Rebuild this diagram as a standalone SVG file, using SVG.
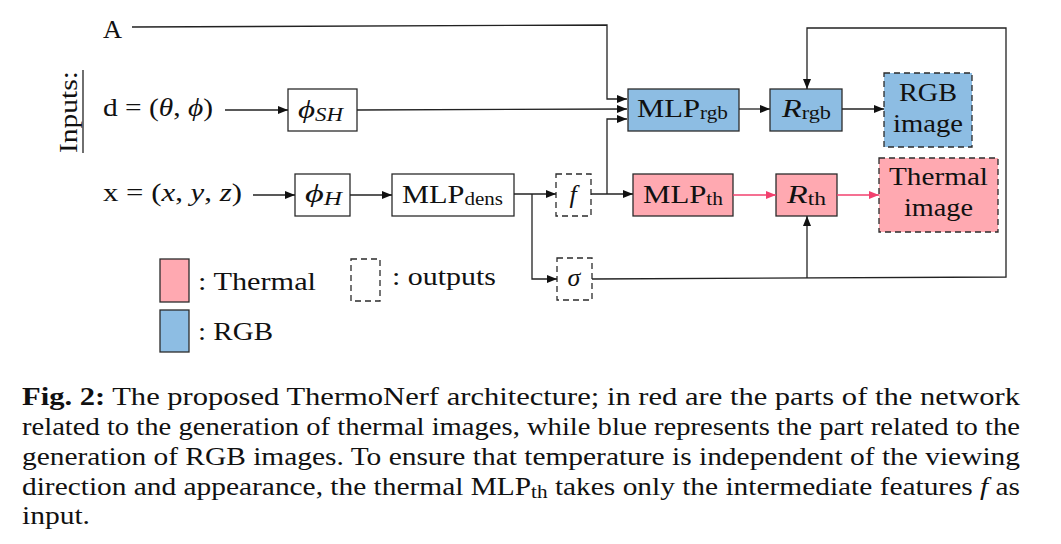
<svg xmlns="http://www.w3.org/2000/svg" width="1061" height="544" viewBox="0 0 1061 544">
<style>
text{font-family:"Liberation Serif","Times New Roman",serif;fill:#111}
.t{font-size:26px}
.s{font-size:18px}
.i{font-style:italic}
.box{stroke:#2b2b2b;stroke-width:1.3;fill:#fff}
.th{fill:#FFA9B1}
.rgb{fill:#8DBDE3}
.dash{stroke-dasharray:6 4}
.ln{fill:none;stroke:#222;stroke-width:1.3}
.pk{fill:none;stroke:#F2406E;stroke-width:1.3}
.cap{font-size:25px}
</style>
<defs>
<marker id="ah" markerUnits="userSpaceOnUse" markerWidth="12" markerHeight="10" refX="10" refY="5" orient="auto"><path d="M0,1 L10,5 L0,9 z" fill="#111"/></marker>
<marker id="ahp" markerUnits="userSpaceOnUse" markerWidth="12" markerHeight="10" refX="10" refY="5" orient="auto"><path d="M0,1 L10,5 L0,9 z" fill="#F2406E"/></marker>
</defs>
<rect width="1061" height="544" fill="#fff"/>

<g id="inputs">
<text class="t" transform="translate(77,153) rotate(-90)" textLength="82" lengthAdjust="spacingAndGlyphs">Inputs:</text>
<line x1="83" y1="70" x2="83" y2="153" stroke="#222" stroke-width="1.3"/>
<text class="t" x="103" y="38" textLength="19" lengthAdjust="spacingAndGlyphs">A</text>
<text class="t" x="103" y="116" textLength="110" lengthAdjust="spacingAndGlyphs">d = (<tspan class="i">θ</tspan>, <tspan class="i">ϕ</tspan>)</text>
<text class="t" x="103" y="201" textLength="139" lengthAdjust="spacingAndGlyphs">x = (<tspan class="i">x</tspan>, <tspan class="i">y</tspan>, <tspan class="i">z</tspan>)</text>
</g>

<g id="phiSH"><rect class="box" x="288" y="89" width="69" height="42"/><text class="t" x="298" y="118" textLength="45" lengthAdjust="spacingAndGlyphs"><tspan class="i">ϕ</tspan><tspan class="s i" dy="3">SH</tspan></text></g>
<g id="phiH"><rect class="box" x="295" y="174" width="55" height="42"/><text class="t" x="305" y="202" textLength="37" lengthAdjust="spacingAndGlyphs"><tspan class="i">ϕ</tspan><tspan class="s i" dy="3">H</tspan></text></g>
<g id="mlpdens"><rect class="box" x="392" y="174" width="122" height="42"/><text class="t" x="402" y="203" textLength="101" lengthAdjust="spacingAndGlyphs">MLP<tspan class="s" dy="2">dens</tspan></text></g>
<g id="f"><rect class="box dash" x="556" y="174" width="35" height="42"/><text class="t i" x="573" y="203" text-anchor="middle">f</text></g>
<g id="sigma"><rect class="box dash" x="557" y="258" width="35" height="42"/><text class="t i" x="574" y="286" text-anchor="middle">σ</text></g>
<g id="mlprgb"><rect class="box rgb" x="628" y="89" width="111" height="42"/><text class="t" x="637" y="117" textLength="91" lengthAdjust="spacingAndGlyphs">MLP<tspan class="s" dy="2">rgb</tspan></text></g>
<g id="rrgb"><rect class="box rgb" x="770" y="89" width="72" height="42"/><text class="t" x="782" y="117" textLength="49" lengthAdjust="spacingAndGlyphs"><tspan class="i">R</tspan><tspan class="s" dy="2">rgb</tspan></text></g>
<g id="rgbimg"><rect class="box rgb dash" x="884" y="73" width="88" height="74"/><text class="t" x="899" y="101" textLength="58" lengthAdjust="spacingAndGlyphs">RGB</text><text class="t" x="893" y="132" textLength="70" lengthAdjust="spacingAndGlyphs">image</text></g>
<g id="mlpth"><rect class="box th" x="633" y="174" width="100" height="42"/><text class="t" x="643" y="203" textLength="80" lengthAdjust="spacingAndGlyphs">MLP<tspan class="s" dy="2">th</tspan></text></g>
<g id="rth"><rect class="box th" x="776" y="174" width="61" height="42"/><text class="t" x="787" y="203" textLength="39" lengthAdjust="spacingAndGlyphs"><tspan class="i">R</tspan><tspan class="s" dy="2">th</tspan></text></g>
<g id="thimg"><rect class="box th dash" x="879" y="158" width="119" height="74"/><text class="t" x="889" y="185" textLength="99" lengthAdjust="spacingAndGlyphs">Thermal</text><text class="t" x="904" y="216" textLength="69" lengthAdjust="spacingAndGlyphs">image</text></g>

<g id="legend">
<rect class="box th" x="160" y="259" width="29" height="43"/>
<text class="t" x="198" y="290" textLength="118" lengthAdjust="spacingAndGlyphs">: Thermal</text>
<rect class="box dash" x="351" y="259" width="29" height="42"/>
<text class="t" x="392" y="285" textLength="104" lengthAdjust="spacingAndGlyphs">: outputs</text>
<rect class="box rgb" x="160" y="310" width="29" height="42"/>
<text class="t" x="198" y="340" textLength="75" lengthAdjust="spacingAndGlyphs">: RGB</text>
</g>

<g id="connectors">
<polyline class="ln" points="132,27 607,25 607,99 627,99" marker-end="url(#ah)"/>
<line class="ln" x1="225" y1="110" x2="288" y2="110" marker-end="url(#ah)"/>
<line class="ln" x1="357" y1="110" x2="627" y2="109" marker-end="url(#ah)"/>
<line class="ln" x1="253" y1="195" x2="295" y2="195" marker-end="url(#ah)"/>
<line class="ln" x1="350" y1="195" x2="392" y2="195" marker-end="url(#ah)"/>
<line class="ln" x1="514" y1="194" x2="556" y2="194" marker-end="url(#ah)"/>
<polyline class="ln" points="532,194 532,279 557,279" marker-end="url(#ah)"/>
<line class="ln" x1="591" y1="194" x2="633" y2="194" marker-end="url(#ah)"/>
<polyline class="ln" points="607,194 607,119 627,119" marker-end="url(#ah)"/>
<line class="ln" x1="739" y1="109" x2="770" y2="109" marker-end="url(#ah)"/>
<line class="ln" x1="842" y1="109" x2="884" y2="109" marker-end="url(#ah)"/>
<line class="pk" x1="733" y1="195" x2="776" y2="195" marker-end="url(#ahp)"/>
<line class="pk" x1="837" y1="195" x2="879" y2="195" marker-end="url(#ahp)"/>
<polyline class="ln" points="592,279 1006,277 1006,28 807,28 807,89" marker-end="url(#ah)"/>
<line class="ln" x1="807" y1="278" x2="807" y2="216" marker-end="url(#ah)"/>
</g>

<g id="caption" class="cap">
<text x="22" y="405" textLength="998" lengthAdjust="spacingAndGlyphs"><tspan font-weight="bold">Fig. 2:</tspan> The proposed ThermoNerf architecture; in red are the parts of the network</text>
<text x="22" y="435" textLength="998" lengthAdjust="spacingAndGlyphs">related to the generation of thermal images, while blue represents the part related to the</text>
<text x="22" y="465" textLength="998" lengthAdjust="spacingAndGlyphs">generation of RGB images. To ensure that temperature is independent of the viewing</text>
<text x="22" y="495" textLength="998" lengthAdjust="spacingAndGlyphs">direction and appearance, the thermal MLP<tspan font-size="18" dy="3">th</tspan><tspan dy="-3"> takes only the intermediate features </tspan><tspan font-style="italic">f</tspan> as</text>
<text x="22" y="524" textLength="68" lengthAdjust="spacingAndGlyphs">input.</text>
</g>
</svg>
